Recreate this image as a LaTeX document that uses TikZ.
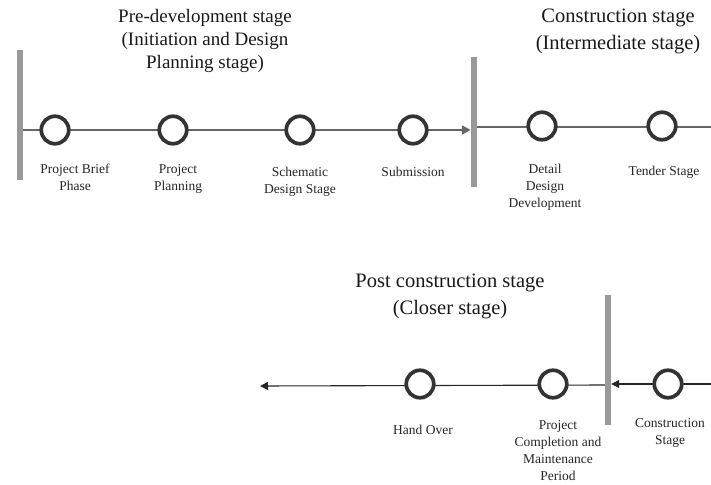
\documentclass[tikz,border=0pt]{standalone}
\usepackage{fontspec}
\setmainfont{Liberation Serif}
\newfontfamily\tms{Liberation Serif}
\usetikzlibrary{arrows.meta}
\begin{document}
\begin{tikzpicture}[x=1pt,y=-1pt,
  stage/.style={circle, draw=black!80, line width=3.7pt, fill=white, minimum size=27.5pt, inner sep=0pt},
  bar/.style={fill=black!40, draw=none, minimum width=6pt, minimum height=130pt, inner sep=0pt},
  lbl/.style={font=\tms\fontsize{13.5}{17}\selectfont, align=center, anchor=north, inner sep=0pt, text=black!85},
  title/.style={font=\tms\fontsize{20.5}{27}\selectfont, align=center, anchor=north, inner sep=0pt, text=black!90},
  tline/.style={draw=black!60, line width=1.3pt},
  bline/.style={draw=black!85, line width=1.1pt},
  tip/.style={-{Triangle[length=8pt,width=8pt]}}
]
\useasboundingbox (0,0) rectangle (711,484);

% titles
\node[title, font=\tms\fontsize{19}{23}\selectfont] (t1) at (205,9) {Pre-development stage\\(Initiation and Design\\Planning stage)};
\node[title] (t2) at (618,9) {Construction stage\\(Intermediate stage)};
\node[title] (t3) at (450,274) {Post construction stage\\(Closer stage)};

% bars
\node[bar] (b1) at (20,115) {};
\node[bar] (b2) at (474,122) {};
\node[bar] (b3) at (608,360) {};

% end coordinates
\coordinate (e1) at (711,127);
\coordinate (e2) at (711,384);
\coordinate (e3) at (260,386);

% top-left line
\draw[tline] (b1.east |- 0,130) -- (413,130);
\draw[tline, line width=2.6pt, -{Triangle[length=9pt,width=9pt]}] (413,130) -- (b2.west |- 0,130);
% top-right line
\draw[tline] (b2.east |- 0,127) -- (e1);
% bottom line
\draw[bline, tip] (e2) -- (b3.east |- e2);
\draw[bline, tip] (b3.west |- 0,385) -- (e3);

% stages
\node[stage] (c1) at (55,130) {};
\node[stage] (c2) at (173,130) {};
\node[stage] (c3) at (300,130) {};
\node[stage] (c4) at (413,130) {};
\node[stage] (c5) at (542,126) {};
\node[stage] (c6) at (662,126) {};
\node[stage] (c7) at (420,384) {};
\node[stage] (c8) at (553,384) {};
\node[stage] (c9) at (668,384) {};

% labels
\node[lbl] (l1) at (75,164) {Project Brief\\Phase};
\node[lbl] (l2) at (178,164) {Project\\Planning};
\node[lbl] (l3) at (300,167) {Schematic\\Design Stage};
\node[lbl] (l4) at (413,167) {Submission};
\node[lbl] (l5) at (545,164) {Detail\\Design\\Development};
\node[lbl] (l6) at (664,166) {Tender Stage};
\node[lbl] (l7) at (423,425) {Hand Over};
\node[lbl] (l8) at (558,420) {Project\\Completion and\\Maintenance\\Period};
\node[lbl] (l9) at (670,418) {Construction\\Stage};
\end{tikzpicture}
\end{document}
